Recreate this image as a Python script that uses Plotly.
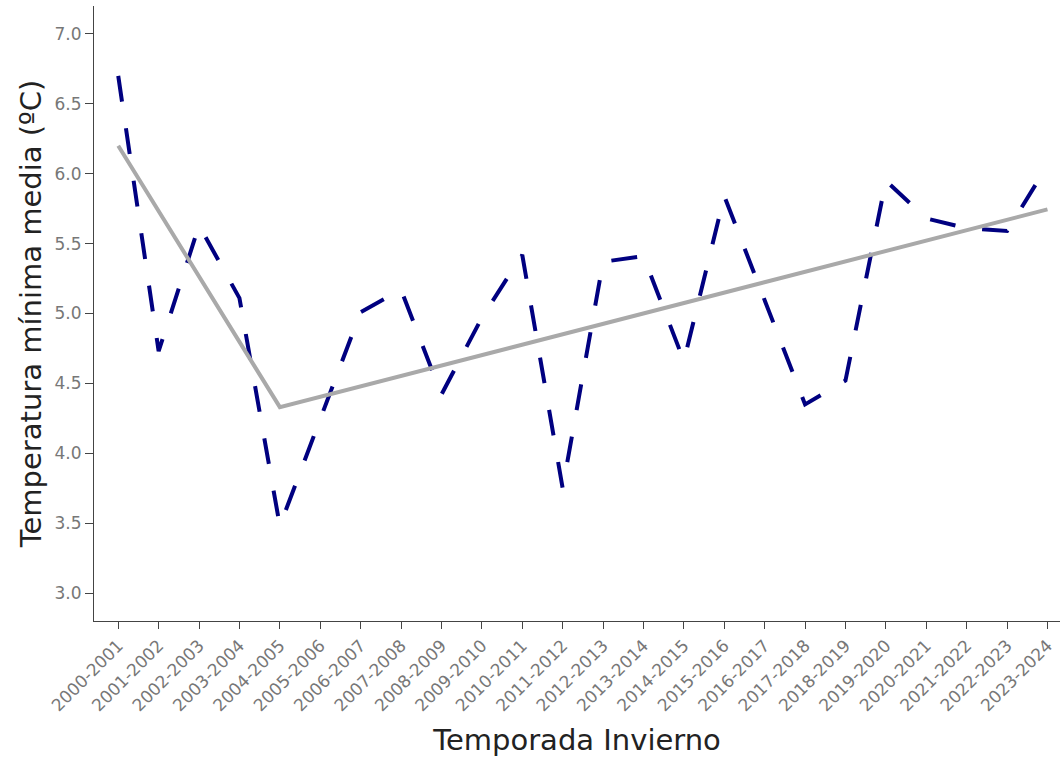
import plotly.graph_objects as go

# Winter seasons
temporadas = [
    "2000-2001", "2001-2002", "2002-2003", "2003-2004", "2004-2005",
    "2005-2006", "2006-2007", "2007-2008", "2008-2009", "2009-2010",
    "2010-2011", "2011-2012", "2012-2013", "2013-2014", "2014-2015",
    "2015-2016", "2016-2017", "2017-2018", "2018-2019", "2019-2020",
    "2020-2021", "2021-2022", "2022-2023", "2023-2024",
]

# Mean minimum temperature per season (ºC)
temp_min_media = [
    6.70, 4.73, 5.63, 5.11, 3.48,
    4.24, 5.01, 5.17, 4.42, 4.97,
    5.42, 3.75, 5.37, 5.41, 4.66,
    5.84, 5.09, 4.35, 4.52, 5.95,
    5.68, 5.61, 5.59, 6.06,
]

# Segmented trend (breakpoint at 2004-2005)
tendencia_x = ["2000-2001", "2004-2005", "2023-2024"]
tendencia_y = [6.20, 4.33, 5.745]

fig = go.Figure()

fig.add_trace(go.Scatter(
    x=temporadas, y=temp_min_media,
    mode="lines",
    line=dict(color="#000080", width=4, dash="26px,27px"),
    showlegend=False,
))

fig.add_trace(go.Scatter(
    x=tendencia_x, y=tendencia_y,
    mode="lines",
    line=dict(color="#a9a9a9", width=4),
    showlegend=False,
))

axis_font = dict(family="Verdana, DejaVu Sans", size=17, color="#777777")
title_font = dict(family="Verdana, DejaVu Sans", size=29, color="#222222")

fig.update_layout(
    width=1060, height=760,
    margin=dict(l=94, r=0, t=6, b=139),
    plot_bgcolor="white", paper_bgcolor="white",
    xaxis=dict(
        type="category",
        categoryorder="array", categoryarray=temporadas,
        range=[-0.6, 23.31],
        showline=True, linecolor="#444444", linewidth=1,
        ticks="outside", ticklen=7, tickcolor="#444444",
        tickangle=-45, tickfont=axis_font,
        showgrid=False, zeroline=False,
        title=dict(text="Temporada Invierno", font=title_font),
    ),
    yaxis=dict(
        range=[2.8, 7.2],
        tickvals=[3.0, 3.5, 4.0, 4.5, 5.0, 5.5, 6.0, 6.5, 7.0],
        ticktext=["3.0", "3.5", "4.0", "4.5", "5.0", "5.5", "6.0", "6.5", "7.0"],
        showline=True, linecolor="#444444", linewidth=1,
        ticks="outside", ticklen=8, tickcolor="#444444",
        tickfont=axis_font,
        showgrid=False, zeroline=False,
        title=dict(text="Temperatura mínima media (ºC)", font=title_font,
                   standoff=4),
    ),
)

fig.write_html("out.html")
